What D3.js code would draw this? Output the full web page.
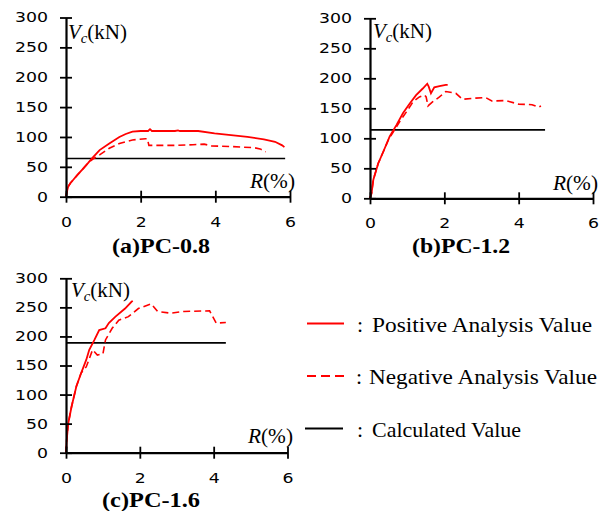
<!DOCTYPE html>
<html><head><meta charset="utf-8">
<script src="https://cdn.jsdelivr.net/npm/d3@7"></script>
<style>body{margin:0;background:#fff;} svg{display:block;}</style>
</head><body>
<svg id="c" width="613" height="511"></svg>
<script>
// ---- data ----
const xTicks = [0, 2, 4, 6];
const yTicks = [0, 50, 100, 150, 200, 250, 300];

const titles = ["(a)PC-0.8", "(b)PC-1.2", "(c)PC-1.6"];
const calcValue = [64, 114, 189];
const calcEnd = [5.87, 4.71, 4.33];

const posA = [[0,0],[0.03,10],[0.06,17],[0.12,23],[0.19,28],[0.3,36],[0.46,47],[0.6,57],[0.72,66],[0.9,78],[1.16,89],[1.43,100],[1.6,105],[1.78,109],[2.0,110],[2.2,110],[2.25,113],[2.3,110],[2.92,110],[3.0,111],[3.05,110],[3.54,110],[3.98,106],[4.42,103],[4.86,100],[5.3,96],[5.6,92],[5.79,86],[5.85,83]];
const negA = [[0,0],[0.03,10],[0.06,17],[0.12,23],[0.19,28],[0.3,36],[0.46,47],[0.6,57],[0.72,63],[0.9,70],[1.16,81],[1.43,89],[1.78,95],[2.13,97],[2.18,97],[2.22,86],[2.6,86],[3.0,86],[3.4,87],[3.7,88],[3.9,85],[4.42,84],[5.04,82],[5.2,80],[5.35,75]];

const posB = [[0,0],[0.04,8],[0.09,31],[0.22,58],[0.36,78],[0.53,103],[0.71,122],[0.89,142],[1.07,158],[1.24,172],[1.42,183],[1.54,191],[1.58,186],[1.64,175],[1.73,185],[1.87,187],[2.04,189],[2.09,189]];
const negB = [[0,0],[0.04,8],[0.09,31],[0.22,58],[0.36,78],[0.5,98],[0.62,110],[0.8,128],[0.98,144],[1.16,161],[1.33,169],[1.47,172],[1.51,169],[1.56,154],[1.69,161],[1.87,169],[2.04,178],[2.31,175],[2.49,165],[2.84,167],[3.11,168],[3.29,162],[3.64,163],[4.0,157],[4.36,156],[4.53,152],[4.6,154]];

const posC = [[0,0],[0.02,22],[0.06,50],[0.15,79],[0.28,114],[0.41,137],[0.55,160],[0.63,177],[0.77,194],[0.9,211],[1.07,214],[1.16,223],[1.34,234],[1.6,248],[1.78,260],[1.81,261]];
const negC = [[0,0],[0.02,22],[0.06,50],[0.15,79],[0.28,114],[0.41,137],[0.55,148],[0.72,177],[0.85,168],[1.0,170],[1.07,194],[1.25,214],[1.43,228],[1.69,234],[1.96,248],[2.31,256],[2.48,243],[2.84,240],[3.19,243],[3.89,244],[4.07,223],[4.33,224]];

const posSeries = [posA, posB, posC];
const negSeries = [negA, negB, negC];

const legendLabels = ["Positive Analysis Value", "Negative Analysis Value", "Calculated Value"];

// ---- layout ----
const panels = [
  {x0: 66, x1: 290, yb: 196.7, yt: 17.5, vc: [68, 39], rl: [250, 188], tt: [112, 253]},
  {x0: 370, x1: 593, yb: 198.3, yt: 18.3, vc: [373, 38], rl: [553, 190], tt: [412, 253]},
  {x0: 66, x1: 287.5, yb: 452.7, yt: 278.3, vc: [71, 297], rl: [248, 443], tt: [102, 507]}
];

const svg = d3.select("#c");
const RED = "#ff0000";
const tickFont = "DejaVu Sans";

panels.forEach((p, i) => {
  const x = d3.scaleLinear().domain([0, 6]).range([p.x0, p.x1]);
  const y = d3.scaleLinear().domain([0, 300]).range([p.yb, p.yt]);
  const g = svg.append("g");

  const line = d3.line().x(d => x(d[0])).y(d => y(d[1]));

  g.append("line").attr("x1", x(0)).attr("x2", x(calcEnd[i]))
    .attr("y1", y(calcValue[i])).attr("y2", y(calcValue[i]))
    .attr("stroke", "#000").attr("stroke-width", 1.6);

  g.append("path").datum(negSeries[i]).attr("d", line)
    .attr("fill", "none").attr("stroke", RED).attr("stroke-width", 1.6)
    .attr("stroke-dasharray", "7,4");
  g.append("path").datum(posSeries[i]).attr("d", line)
    .attr("fill", "none").attr("stroke", RED).attr("stroke-width", 1.8);

  const ya = g.append("g").attr("transform", `translate(${p.x0},0)`)
    .call(d3.axisLeft(y).tickValues(yTicks).tickFormat(d3.format("d")).tickSizeInner(6).tickSizeOuter(0).tickPadding(12));
  ya.selectAll(".tick line").attr("x2", 6).attr("x1", -6).attr("stroke-width", 1.8);
  ya.select(".domain").attr("stroke-width", 2.2);
  ya.selectAll(".tick text").attr("font-family", tickFont).attr("font-size", 14).attr("fill", "#000")
    .attr("textLength", d => String(d).length * 11).attr("lengthAdjust", "spacingAndGlyphs");

  const xa = g.append("g").attr("transform", `translate(0,${p.yb})`)
    .call(d3.axisBottom(x).tickValues(xTicks).tickFormat(d3.format("d")).tickSizeInner(6).tickSizeOuter(0).tickPadding(14));
  xa.selectAll(".tick line").attr("y1", -6).attr("y2", 6).attr("stroke-width", 1.8);
  xa.select(".domain").attr("stroke-width", 2.2);
  xa.selectAll(".tick text").attr("font-family", tickFont).attr("font-size", 14).attr("fill", "#000")
    .attr("textLength", 11).attr("lengthAdjust", "spacingAndGlyphs");

  const vt = g.append("text").attr("x", p.vc[0]).attr("y", p.vc[1])
    .attr("font-family", "Liberation Serif").attr("font-size", 20)
    .attr("textLength", 59).attr("lengthAdjust", "spacingAndGlyphs");
  vt.append("tspan").attr("font-style", "italic").text("V");
  vt.append("tspan").attr("font-style", "italic").attr("font-size", 14).attr("dy", 4).text("c");
  vt.append("tspan").attr("dy", -4).text("(kN)");

  const rt = g.append("text").attr("x", p.rl[0]).attr("y", p.rl[1])
    .attr("font-family", "Liberation Serif").attr("font-size", 20)
    .attr("textLength", 45).attr("lengthAdjust", "spacingAndGlyphs");
  rt.append("tspan").attr("font-style", "italic").text("R");
  rt.append("tspan").text("(%)");

  g.append("text").attr("x", p.tt[0]).attr("y", p.tt[1])
    .attr("font-family", "Liberation Serif").attr("font-weight", "bold").attr("font-size", 22)
    .attr("textLength", 98).attr("lengthAdjust", "spacingAndGlyphs")
    .text(titles[i]);
});

// legend
const legY = [323.5, 376, 428.5];
const legStyles = [{c: RED, d: null}, {c: RED, d: "9,5"}, {c: "#000", d: null}];
const legX = [[307, 344], [307, 344], [305, 343]];
const legColX = [357, 356, 357];
const legTX = [372, 369, 372];
const legTW = [220, 228, 149];
const leg = svg.append("g");
legendLabels.forEach((t, i) => {
  leg.append("line").attr("x1", legX[i][0]).attr("x2", legX[i][1])
    .attr("y1", legY[i]).attr("y2", legY[i])
    .attr("stroke", legStyles[i].c).attr("stroke-width", 2)
    .attr("stroke-dasharray", legStyles[i].d);
  leg.append("text").attr("x", legColX[i]).attr("y", legY[i] + 8)
    .attr("font-family", "Liberation Serif").attr("font-size", 22).text(":");
  leg.append("text").attr("x", legTX[i]).attr("y", legY[i] + 8)
    .attr("font-family", "Liberation Serif").attr("font-size", 22)
    .attr("textLength", legTW[i]).attr("lengthAdjust", "spacingAndGlyphs")
    .text(t);
});
</script>
</body></html>
